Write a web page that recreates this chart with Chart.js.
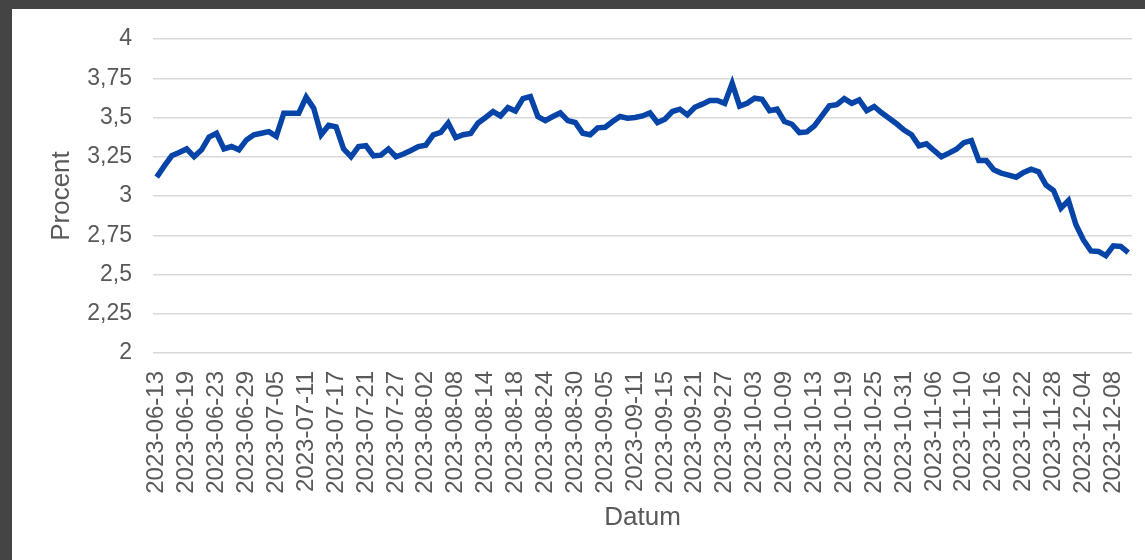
<!DOCTYPE html>
<html>
<head>
<meta charset="utf-8">
<script src="https://cdn.jsdelivr.net/npm/chart.js@4"></script>
<style>
    body { margin: 0; background: #444444; width: 1145px; height: 560px; overflow: hidden; }
    #box { position: absolute; left: 12px; top: 9px; width: 1133px; height: 551px; background: #ffffff; }
</style>
</head>
<body>
<div id="box"><canvas id="ranta" width="1133" height="551"></canvas></div>
<script>
/* =========================
   DATA
========================= */
const datum = [
    "2023-06-13", "2023-06-14", "2023-06-15", "2023-06-16", "2023-06-19", "2023-06-20", "2023-06-21",
    "2023-06-22", "2023-06-23", "2023-06-26", "2023-06-27", "2023-06-28", "2023-06-29", "2023-06-30",
    "2023-07-03", "2023-07-04", "2023-07-05", "2023-07-06", "2023-07-07", "2023-07-10", "2023-07-11",
    "2023-07-12", "2023-07-13", "2023-07-14", "2023-07-17", "2023-07-18", "2023-07-19", "2023-07-20",
    "2023-07-21", "2023-07-24", "2023-07-25", "2023-07-26", "2023-07-27", "2023-07-28", "2023-07-31",
    "2023-08-01", "2023-08-02", "2023-08-03", "2023-08-04", "2023-08-07", "2023-08-08", "2023-08-09",
    "2023-08-10", "2023-08-11", "2023-08-14", "2023-08-15", "2023-08-16", "2023-08-17", "2023-08-18",
    "2023-08-21", "2023-08-22", "2023-08-23", "2023-08-24", "2023-08-25", "2023-08-28", "2023-08-29",
    "2023-08-30", "2023-08-31", "2023-09-01", "2023-09-04", "2023-09-05", "2023-09-06", "2023-09-07",
    "2023-09-08", "2023-09-11", "2023-09-12", "2023-09-13", "2023-09-14", "2023-09-15", "2023-09-18",
    "2023-09-19", "2023-09-20", "2023-09-21", "2023-09-22", "2023-09-25", "2023-09-26", "2023-09-27",
    "2023-09-28", "2023-09-29", "2023-10-02", "2023-10-03", "2023-10-04", "2023-10-05", "2023-10-06",
    "2023-10-09", "2023-10-10", "2023-10-11", "2023-10-12", "2023-10-13", "2023-10-16", "2023-10-17",
    "2023-10-18", "2023-10-19", "2023-10-20", "2023-10-23", "2023-10-24", "2023-10-25", "2023-10-26",
    "2023-10-27", "2023-10-30", "2023-10-31", "2023-11-01", "2023-11-02", "2023-11-03", "2023-11-06",
    "2023-11-07", "2023-11-08", "2023-11-09", "2023-11-10", "2023-11-13", "2023-11-14", "2023-11-15",
    "2023-11-16", "2023-11-17", "2023-11-20", "2023-11-21", "2023-11-22", "2023-11-23", "2023-11-24",
    "2023-11-27", "2023-11-28", "2023-11-29", "2023-11-30", "2023-12-01", "2023-12-04", "2023-12-05",
    "2023-12-06", "2023-12-07", "2023-12-08", "2023-12-11", "2023-12-12"
];

const procent = [
    3.12, 3.19, 3.256, 3.277, 3.30, 3.25, 3.294, 3.375, 3.40, 3.30,
    3.315, 3.294, 3.357, 3.39, 3.40, 3.41, 3.38, 3.527, 3.527, 3.527,
    3.63, 3.56, 3.39, 3.45, 3.44, 3.30, 3.25, 3.315, 3.32, 3.256,
    3.26, 3.30, 3.25, 3.267, 3.29, 3.315, 3.324, 3.39, 3.405, 3.465,
    3.372, 3.39, 3.398, 3.465, 3.50, 3.538, 3.51, 3.563, 3.542, 3.62,
    3.633, 3.506, 3.48, 3.506, 3.53, 3.48, 3.468, 3.40, 3.39, 3.434,
    3.438, 3.474, 3.506, 3.495, 3.50, 3.51, 3.53, 3.468, 3.489, 3.538,
    3.553, 3.517, 3.565, 3.585, 3.608, 3.608, 3.59, 3.718, 3.572, 3.59,
    3.623, 3.616, 3.544, 3.553, 3.474, 3.457, 3.404, 3.408, 3.447, 3.51,
    3.574, 3.582, 3.62, 3.59, 3.612, 3.544, 3.57, 3.53, 3.495, 3.46,
    3.42, 3.39, 3.32, 3.332, 3.29, 3.25, 3.273, 3.298, 3.34, 3.353,
    3.226, 3.226, 3.167, 3.146, 3.133, 3.12, 3.15, 3.171, 3.154, 3.07,
    3.035, 2.923, 2.972, 2.817, 2.72, 2.65, 2.647, 2.62, 2.683, 2.679,
    2.64
];

// every 4th date gets a label
const etikettSteg = 4;

/* =========================
   CONFIGURACIÓN GLOBAL
========================= */
Chart.defaults.font.family = "'Liberation Sans', Arial, sans-serif";
Chart.defaults.color = "#595959";

/* =========================
   LINJE
========================= */
new Chart(document.getElementById("ranta"), {
    type: "line",
    data: {
        labels: datum,
        datasets: [{
            data: procent,
            borderColor: "#0645a7",
            borderWidth: 5.5,
            pointRadius: 0,
            tension: 0,
            fill: false
        }]
    },
    options: {
        responsive: false,
        animation: false,
        layout: {
            padding: { left: 0, right: 13, top: 30, bottom: 0 }
        },
        plugins: {
            legend: { display: false },
            tooltip: { enabled: false }
        },
        scales: {
            x: {
                type: "category",
                offset: true,
                grid: { display: false },
                border: { display: false },
                ticks: {
                    autoSkip: false,
                    minRotation: 90,
                    maxRotation: 90,
                    padding: 10,
                    font: { size: 24 },
                    callback: (v, i) => i % etikettSteg === 0 ? datum[i] : ""
                },
                title: {
                    display: true,
                    text: "Datum",
                    font: { size: 26 },
                    padding: { top: 0, bottom: 27 }
                },
                afterFit: s => {
                    s.height = 207;
                    s.paddingLeft = 0;
                    s.paddingRight = 0;
                }
            },
            y: {
                min: 2,
                max: 4,
                grid: { color: "#d9d9d9", lineWidth: 1.5, drawTicks: false },
                border: { display: false },
                ticks: {
                    stepSize: 0.25,
                    padding: 21,
                    font: { size: 23 },
                    callback: v => String(v).replace(".", ",")
                },
                title: {
                    display: true,
                    text: "Procent",
                    font: { size: 26 },
                    padding: { top: 34, bottom: 0 }
                },
                afterFit: s => {
                    s.width = 141;
                    s.paddingTop = 0;
                    s.paddingBottom = 0;
                }
            }
        }
    }
});
</script>
</body>
</html>
